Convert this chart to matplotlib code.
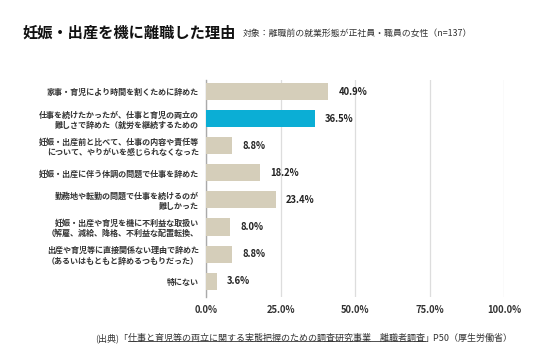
import matplotlib
matplotlib.use('Agg')
import matplotlib.pyplot as plt
from matplotlib.lines import Line2D

plt.rcParams['font.family'] = ['Noto Sans CJK JP', 'DejaVu Sans']

categories = [
    '家事・育児により時間を割くために辞めた',
    '仕事を続けたかったが、仕事と育児の両立の\n難しさで辞めた（就労を継続するための',
    '妊娠・出産前と比べて、仕事の内容や責任等\nについて、やりがいを感じられなくなった',
    '妊娠・出産に伴う体調の問題で仕事を辞めた',
    '勤務地や転勤の問題で仕事を続けるのが\n難しかった',
    '妊娠・出産や育児を機に不利益な取扱い\n（解雇、減給、降格、不利益な配置転換、',
    '出産や育児等に直接関係ない理由で辞めた\n（あるいはもともと辞めるつもりだった）',
    '特にない',
]
values = [40.9, 36.5, 8.8, 18.2, 23.4, 8.0, 8.8, 3.6]
highlight = 1
ticks = [0, 25, 50, 75, 100]

beige = '#D5CEBA'
blue = '#0BAED5'

fig = plt.figure(figsize=(5.36, 3.57), dpi=100)
ax = fig.add_axes([206 / 536, 1 - 297 / 357, 298 / 536, 217 / 357])

ypos = list(range(len(values)))
colors = [blue if i == highlight else beige for i in ypos]
ax.barh(ypos, values, height=0.63, color=colors, zorder=3)

for y, v in zip(ypos, values):
    ax.annotate(f'{v:.1f}%', (v, y), xytext=(7.5, 0), textcoords='offset points',
                va='center', ha='left', fontsize=6.8, fontweight='bold', color='#222222')

ax.set_xlim(0, 100)
ax.set_ylim(len(values) - 0.41, -0.44)
ax.set_xticks(ticks)
ax.set_xticklabels([f'{t:.1f}%' for t in ticks], fontsize=6.8, fontweight='bold', color='#333333')
ax.set_yticks(ypos)
ax.set_yticklabels(categories, fontsize=5.8, fontweight='bold', color='#333333', linespacing=1.2)
ax.tick_params(length=0, axis='both')
ax.tick_params(axis='x', pad=6)
ax.tick_params(axis='y', pad=5)
ax.grid(axis='x', color='#DDDDDD', linewidth=0.9, zorder=0)
for s in ['top', 'right', 'bottom']:
    ax.spines[s].set_visible(False)
ax.spines['left'].set_color('#AAAAAA')
ax.spines['left'].set_linewidth(1.0)

fig.text(22 / 536, 1 - 33 / 357, '妊娠・出産を機に離職した理由', fontsize=11, fontweight='bold',
         va='center', ha='left', color='#111111')
fig.text(243 / 536, 1 - 33 / 357, '対象：離職前の就業形態が正社員・職員の女性（n=137）',
         fontsize=6.4, va='center', ha='left', color='#333333')

# source line with underlined part
fig.canvas.draw()
renderer = fig.canvas.get_renderer()
parts = ['(出典)「', '仕事と育児等の両立に関する実態把握のための調査研究事業　離職者調査', '」P50（厚生労働省）']
x = 95 / 536
y = 1 - 338 / 357
for i, p in enumerate(parts):
    t = fig.text(x, y, p, fontsize=6.5, va='center', ha='left', color='#333333')
    bb = t.get_window_extent(renderer).transformed(fig.transFigure.inverted())
    if i == 1:
        fig.add_artist(Line2D([bb.x0, bb.x1], [bb.y0 + 0.004, bb.y0 + 0.004],
                              transform=fig.transFigure, color='#333333', linewidth=0.6))
    x = bb.x1

fig.savefig('out.png', dpi=100)
